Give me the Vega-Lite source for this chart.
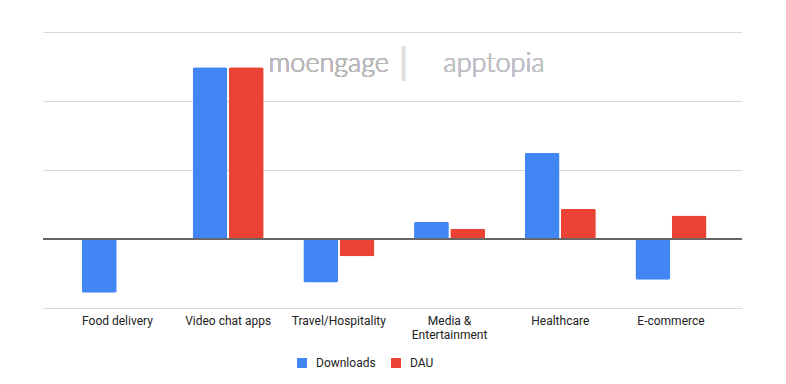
{
  "$schema": "https://vega.github.io/schema/vega-lite/v6.json",
  "width": 699,
  "height": 276,
  "autosize": {"type": "none"},
  "padding": {"left": 43, "top": 32, "right": 44, "bottom": 76},
  "background": "#ffffff",
  "config": {
    "view": {"stroke": null},
    "font": "Roboto",
    "axis": {"labelFont": "Roboto", "labelFontSize": 12, "labelColor": "#222222"},
    "legend": {"labelFont": "Roboto", "labelFontSize": 12, "labelColor": "#222222"}
  },
  "data": {
    "values": [
      {"category": "Food delivery", "series": "Downloads", "value": -0.78},
      {"category": "Food delivery", "series": "DAU", "value": 0},
      {"category": "Video chat apps", "series": "Downloads", "value": 2.49},
      {"category": "Video chat apps", "series": "DAU", "value": 2.49},
      {"category": "Travel/Hospitality", "series": "Downloads", "value": -0.63},
      {"category": "Travel/Hospitality", "series": "DAU", "value": -0.25},
      {"category": "Media & Entertainment", "series": "Downloads", "value": 0.25},
      {"category": "Media & Entertainment", "series": "DAU", "value": 0.15},
      {"category": "Healthcare", "series": "Downloads", "value": 1.25},
      {"category": "Healthcare", "series": "DAU", "value": 0.44},
      {"category": "E-commerce", "series": "Downloads", "value": -0.59},
      {"category": "E-commerce", "series": "DAU", "value": 0.34}
    ]
  },
  "layer": [
    {
      "mark": {"type": "bar", "cornerRadius": 2},
      "encoding": {
        "x": {
          "field": "category",
          "type": "nominal",
          "sort": null,
          "scale": {"paddingInner": 0.358, "paddingOuter": 0.336, "align": 0.523},
          "axis": {
            "title": null,
            "domain": false,
            "ticks": false,
            "labelAngle": 0,
            "labelPadding": 7,
            "labelLineHeight": 14,
            "labelExpr": "datum.value == 'Media & Entertainment' ? ['Media &', 'Entertainment'] : datum.label"
          }
        },
        "xOffset": {
          "field": "series",
          "type": "nominal",
          "sort": ["Downloads", "DAU"],
          "scale": {"paddingInner": 0.04}
        },
        "y": {
          "field": "value",
          "type": "quantitative",
          "scale": {"domain": [-1, 3], "nice": false},
          "axis": {
            "title": null,
            "labels": false,
            "ticks": false,
            "domain": false,
            "values": [-1, 0, 1, 2, 3],
            "gridColor": "#d9d9d9"
          }
        },
        "color": {
          "field": "series",
          "type": "nominal",
          "sort": ["Downloads", "DAU"],
          "scale": {"domain": ["Downloads", "DAU"], "range": ["#4285F4", "#EA4335"]},
          "legend": {
            "title": null,
            "orient": "none",
            "direction": "horizontal",
            "legendX": 253,
            "legendY": 325,
            "symbolType": "square",
            "symbolSize": 100,
            "symbolStrokeWidth": 0,
            "labelOffset": 8,
            "columnPadding": 14
          }
        }
      }
    },
    {
      "mark": {"type": "rule", "color": "#666666", "strokeWidth": 1},
      "encoding": {"y": {"datum": 0}}
    },
    {
      "mark": {"type": "text", "text": "moengage", "fontSize": 27, "font": "Lato", "fontWeight": 300, "color": "#b8b8b8", "align": "right", "baseline": "middle", "dx": 50},
      "encoding": {"x": {"datum": "Travel/Hospitality"}, "y": {"datum": 2.53}}
    },
    {
      "mark": {"type": "text", "text": "|", "fontSize": 36, "font": "Lato", "color": "#dddddd", "align": "center", "baseline": "middle", "dx": -46},
      "encoding": {"x": {"datum": "Media & Entertainment"}, "y": {"datum": 2.53}}
    },
    {
      "mark": {"type": "text", "text": "apptopia", "fontSize": 27, "font": "Lato", "fontWeight": 300, "color": "#c0c0c6", "align": "left", "baseline": "middle", "dx": -6},
      "encoding": {"x": {"datum": "Media & Entertainment"}, "y": {"datum": 2.53}}
    }
  ]
}
